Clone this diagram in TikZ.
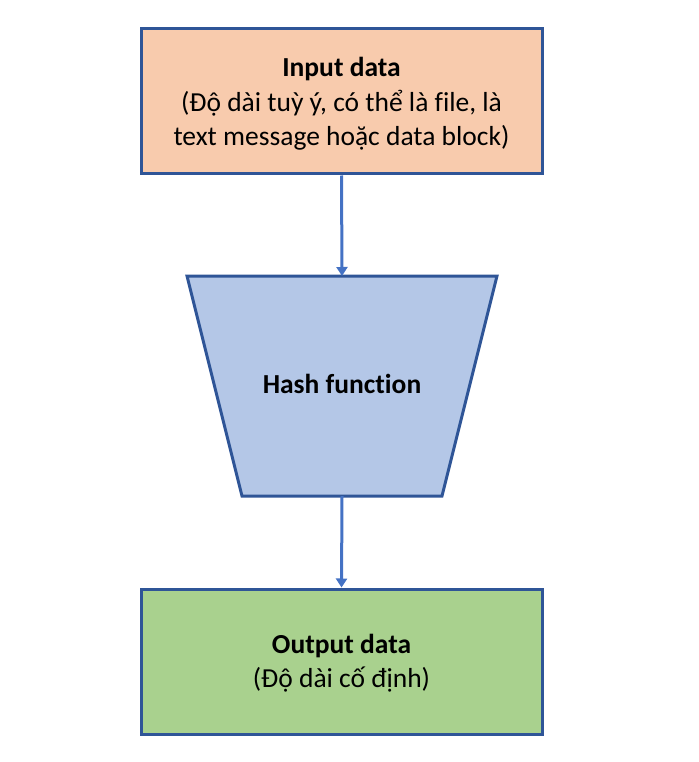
\documentclass[tikz,border=0pt]{standalone}
\usepackage{fontspec}
\setmainfont{Carlito}[Ligatures={NoCommon}]
\usetikzlibrary{arrows.meta}
\definecolor{edgeblue}{HTML}{2F5597}
\definecolor{arrowblue}{HTML}{4472C4}
\definecolor{peach}{HTML}{F8CBAD}
\definecolor{lightblue}{HTML}{B4C7E7}
\definecolor{lightgreen}{HTML}{A9D18E}
\tikzset{
  box/.style={draw=edgeblue, line width=3pt, minimum width=401pt, minimum height=145pt, inner sep=0pt, align=center, font=\fontsize{27.5}{34.5}\selectfont},
  conn/.style={draw=arrowblue, line width=3pt, -{Triangle[length=9pt,width=11pt]}},
}
\begin{document}
\begin{tikzpicture}[x=1pt,y=1pt]
\useasboundingbox (0,0) rectangle (698,-762);
\node[box, fill=peach] (in) at (341.5,-101.5) {};
\node[align=center, font=\fontsize{27.5}{34.5}\selectfont, inner sep=0pt] (intext) at (341.5,-104) {\textbf{Input data}\\(Độ dài tuỳ ý, có thể là file, là\\text message hoặc data block)};
\coordinate (tl) at (187,-276);
\coordinate (tr) at (497,-276);
\coordinate (br) at (442,-496);
\coordinate (bl) at (242,-496);
\coordinate (ttop) at (342,-276);
\coordinate (tbot) at (342,-496);
\draw[draw=edgeblue, fill=lightblue, line width=3pt, line join=miter] (tl) -- (tr) -- (br) -- (bl) -- cycle;
\node[font=\fontsize{27.5}{34.5}\selectfont\bfseries] (hash) at (342,-384) {Hash function};
\node[box, fill=lightgreen] (out) at (341.5,-661.5) {};
\node[align=center, font=\fontsize{27.5}{34.5}\selectfont, inner sep=0pt] (outtext) at (341.5,-663) {\textbf{Output data}\\(Độ dài cố định)};
\draw[conn] (in.south) -- (ttop);
\draw[conn] (tbot) -- (out.north);
\end{tikzpicture}
\end{document}
